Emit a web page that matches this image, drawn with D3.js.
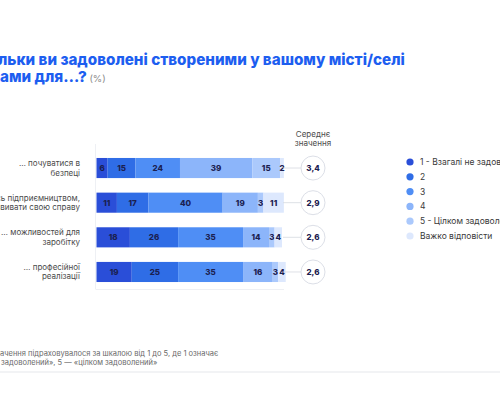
<!DOCTYPE html>
<html>
<head>
<meta charset="utf-8">
<script src="https://cdn.jsdelivr.net/npm/d3@7"></script>
<style>
  html, body { margin: 0; padding: 0; background: #fff; }
  svg { display: block; font-family: Inter, "Noto Sans", sans-serif; }
</style>
</head>
<body>
<svg id="chart" width="500" height="400"></svg>
<script>
// Data
var categories = [
  ['… почуватися в', 'безпеці'],
  ['… займатись підприємництвом,', 'розвивати свою справу'],
  ['… можливостей для', 'заробітку'],
  ['… професійної', 'реалізації']
];
var answers = ['1 - Взагалі не задоволений', '2', '3', '4', '5 - Цілком задоволений', 'Важко відповісти'];
var values = [
  [6, 15, 24, 39, 15, 2],
  [11, 17, 40, 19, 3, 11],
  [18, 26, 35, 14, 3, 4],
  [19, 25, 35, 16, 3, 4]
];
var means = ['3,4', '2,9', '2,6', '2,6'];
var colors = ['#2a4ed8', '#2f6de6', '#4f8ef5', '#8cb5fa', '#abc9fc', '#dde8fd'];

var titleLines = [
  {text: 'Наскільки ви задоволені створеними у вашому місті/селі', cut: 'Наскі', shift: -2},
  {text: 'умовами для…?', cut: 'умов', shift: 0}
];
var noteLines = [
  {text: '*Середнє значення підраховувалося за шкалою від 1 до 5, де 1 означає', cut: '*Середнє зн', shift: 0},
  {text: '«взагалі не задоволений», 5 — «цілком задоволений»', cut: '«взагалі не ', shift: -1}
];

var svg = d3.select('#chart');

var x = d3.scaleLinear().domain([0, 100]).range([96.5, 282]);
var y = d3.scaleBand()
  .domain(d3.range(categories.length))
  .range([150.7, 289.3])
  .paddingInner(0.42)
  .paddingOuter(0.21);

// measure a text prefix so the cropped slide edge falls in the same place
function prefixWidth(str, size, weight) {
  var t = svg.append('text')
    .attr('font-size', size)
    .attr('font-weight', weight)
    .text(str);
  var w = t.node().getComputedTextLength();
  t.remove();
  return w;
}

// title
titleLines.forEach(function(line, i) {
  var x0 = -prefixWidth(line.cut, 15.2, 800) + line.shift;
  var t = svg.append('text')
    .attr('x', x0)
    .attr('y', 65 + i * 17)
    .attr('font-size', 15.2)
    .attr('font-weight', 800)
    .attr('fill', '#1d5ef0')
    .text(line.text);
  if (i === titleLines.length - 1) {
    t.append('tspan')
      .attr('font-size', 9.5)
      .attr('font-weight', 400)
      .attr('fill', '#8a8a8a')
      .text(' (%)');
  }
});

// faint frame lines
svg.append('line')
  .attr('x1', 95.5).attr('x2', 95.5)
  .attr('y1', 144).attr('y2', 289)
  .attr('stroke', '#eef0f4');
svg.append('line')
  .attr('x1', 95.5).attr('x2', 284)
  .attr('y1', 289.5).attr('y2', 289.5)
  .attr('stroke', '#eef0f4');

// category labels
categories.forEach(function(lines, i) {
  var cy = y(i) + y.bandwidth() / 2;
  var t = svg.append('text')
    .attr('text-anchor', 'end')
    .attr('font-size', 8)
    .attr('fill', '#4a4a4a');
  lines.forEach(function(l, j) {
    t.append('tspan')
      .attr('x', 80)
      .attr('y', cy - 2 + j * 9.5)
      .text(l);
  });
});

// stacked bars
var rows = svg.selectAll('g.row')
  .data(values)
  .enter().append('g')
    .attr('class', 'row')
    .attr('transform', function(d, i) { return 'translate(0,' + y(i) + ')'; });

var segs = rows.selectAll('g.seg')
  .data(function(d) {
    var acc = 0;
    return d.map(function(v, k) {
      var s = {v: v, k: k, x0: acc, x1: acc + v};
      acc += v;
      return s;
    });
  })
  .enter().append('g')
    .attr('class', 'seg');

segs.append('rect')
  .attr('x', function(d) { return x(d.x0); })
  .attr('width', function(d) { return x(d.x1) - x(d.x0); })
  .attr('height', y.bandwidth())
  .attr('fill', function(d) { return colors[d.k]; });

segs.append('text')
  .attr('x', function(d) { return (x(d.x0) + x(d.x1)) / 2; })
  .attr('y', y.bandwidth() / 2 + 3)
  .attr('text-anchor', 'middle')
  .attr('font-size', 8)
  .attr('font-weight', 800)
  .attr('fill', '#1b2050')
  .text(function(d) { return d.v; });

// mean column
var mx = 313;
svg.append('text')
  .attr('text-anchor', 'middle')
  .attr('font-size', 8)
  .attr('fill', '#4a4a4a')
  .selectAll('tspan')
  .data(['Середнє', 'значення'])
  .enter().append('tspan')
    .attr('x', mx)
    .attr('y', function(d, i) { return 137 + i * 9; })
    .text(function(d) { return d; });

means.forEach(function(m, i) {
  var cy = y(i) + y.bandwidth() / 2;
  svg.append('line')
    .attr('x1', x(100) + 1).attr('x2', mx - 12)
    .attr('y1', cy).attr('y2', cy)
    .attr('stroke', '#d6d9e0')
    .attr('stroke-width', 0.8);
  svg.append('circle')
    .attr('cx', mx).attr('cy', cy).attr('r', 12)
    .attr('fill', '#fff')
    .attr('stroke', '#dcdfe7');
  svg.append('text')
    .attr('x', mx).attr('y', cy + 3)
    .attr('text-anchor', 'middle')
    .attr('font-size', 8)
    .attr('font-weight', 800)
    .attr('fill', '#1b2050')
    .text(m);
});

// legend
var legend = svg.selectAll('g.legend')
  .data(answers)
  .enter().append('g')
    .attr('class', 'legend')
    .attr('transform', function(d, i) { return 'translate(410,' + (162 + i * 14.8) + ')'; });

legend.append('circle')
  .attr('r', 3.6)
  .attr('fill', function(d, i) { return colors[i]; });

legend.append('text')
  .attr('x', 10)
  .attr('y', 3)
  .attr('font-size', 8.5)
  .attr('fill', '#3a3a3a')
  .text(function(d) { return d; });

// footnote
noteLines.forEach(function(line, i) {
  svg.append('text')
    .attr('x', -prefixWidth(line.cut, 7.5, 400) + line.shift)
    .attr('y', 356 + i * 9)
    .attr('font-size', 7.5)
    .attr('fill', '#6a6a6a')
    .text(line.text);
});

svg.append('rect')
  .attr('x', 0).attr('y', 371)
  .attr('width', 500).attr('height', 2)
  .attr('fill', '#f2f3f5');
</script>
</body>
</html>
